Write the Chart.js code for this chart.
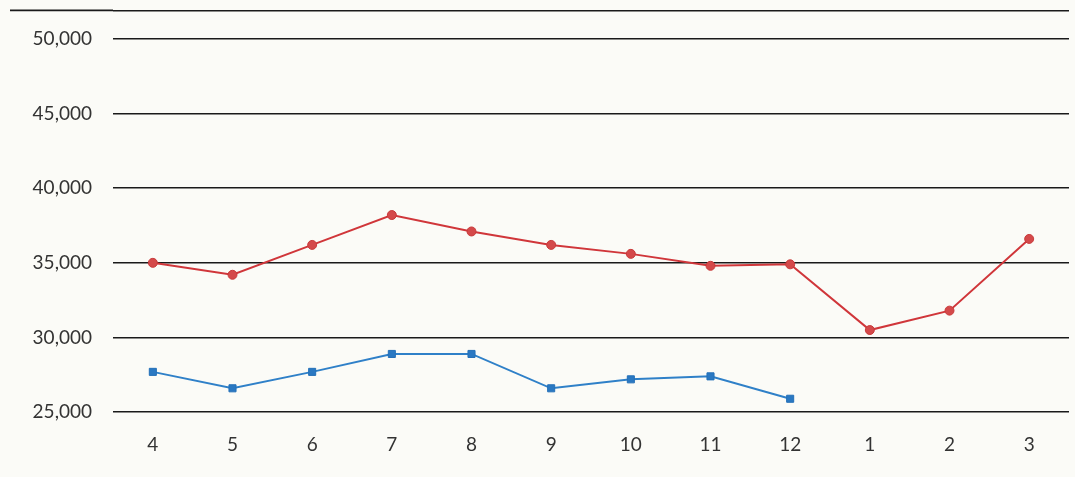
<!DOCTYPE html>
<html>
<head>
<meta charset="utf-8">
<script src="https://cdn.jsdelivr.net/npm/chart.js@4/dist/chart.umd.min.js"></script>
<style>
  html, body { margin: 0; padding: 0; background: #fbfbf7; }
  #wrap { position: relative; width: 1075px; height: 477px; overflow: hidden; }
  #inner { position: absolute; left: 0; top: -22px; width: 1075px; height: 499px; }
</style>
</head>
<body>
<div id="wrap"><div id="inner"><canvas id="chart"></canvas></div></div>
<script>
const months = ['4', '5', '6', '7', '8', '9', '10', '11', '12', '1', '2', '3'];
const redSeries = [35000, 34200, 36200, 38200, 37100, 36200, 35600, 34800, 34900, 30500, 31800, 36600];
const blueSeries = [27700, 26600, 27700, 28900, 28900, 26600, 27200, 27400, 25900, null, null, null];
const yTicks = [25000, 30000, 35000, 40000, 45000, 50000];

// top frame line of the scanned sheet
const frameLine = {
  id: 'frameLine',
  beforeDatasetsDraw(chart) {
    const { ctx, chartArea } = chart;
    ctx.save();
    ctx.strokeStyle = '#1a1a1a';
    ctx.lineWidth = 1.6;
    ctx.beginPath();
    ctx.moveTo(10, chartArea.top);
    ctx.lineTo(chartArea.left, chartArea.top);
    ctx.stroke();
    ctx.restore();
  }
};

new Chart(document.getElementById('chart'), {
  type: 'line',
  data: {
    labels: months,
    datasets: [
      {
        data: redSeries,
        borderColor: '#d0363a',
        backgroundColor: '#d4494a',
        borderWidth: 2,
        pointStyle: 'circle',
        pointRadius: 4.5,
        pointBorderColor: '#c83a3a',
        pointBorderWidth: 1,
        tension: 0,
      },
      {
        data: blueSeries,
        borderColor: '#2f80c8',
        backgroundColor: '#2a78c2',
        borderWidth: 2,
        pointStyle: 'rect',
        pointRadius: 5,
        pointBorderColor: '#2470b8',
        pointBorderWidth: 1,
        tension: 0,
        spanGaps: false,
      },
    ],
  },
  options: {
    responsive: true,
    maintainAspectRatio: false,
    animation: false,
    layout: { padding: { top: 0, right: 0, bottom: 8, left: 0 } },
    plugins: {
      legend: { display: false },
      tooltip: { enabled: false },
    },
    scales: {
      x: {
        offset: true,
        grid: { display: false },
        border: { display: false },
        ticks: {
          color: '#333',
          padding: 13,
          font: { family: 'Lato', size: 19 },
        },
      },
      y: {
        min: 25000,
        max: 51900,
        afterBuildTicks: (scale) => {
          scale.ticks = yTicks.map((v) => ({ value: v })).concat([{ value: 51900 }]);
        },
        afterFit: (scale) => { scale.width = 113; },
        grid: { color: '#1a1a1a', lineWidth: 1.6, drawTicks: false },
        border: { display: false },
        ticks: {
          color: '#333',
          padding: 21,
          font: { family: 'Lato', size: 19 },
          callback: (v) => (yTicks.includes(v) ? v.toLocaleString('en-US') : ''),
        },
      },
    },
  },
  plugins: [frameLine],
});
</script>
</body>
</html>
